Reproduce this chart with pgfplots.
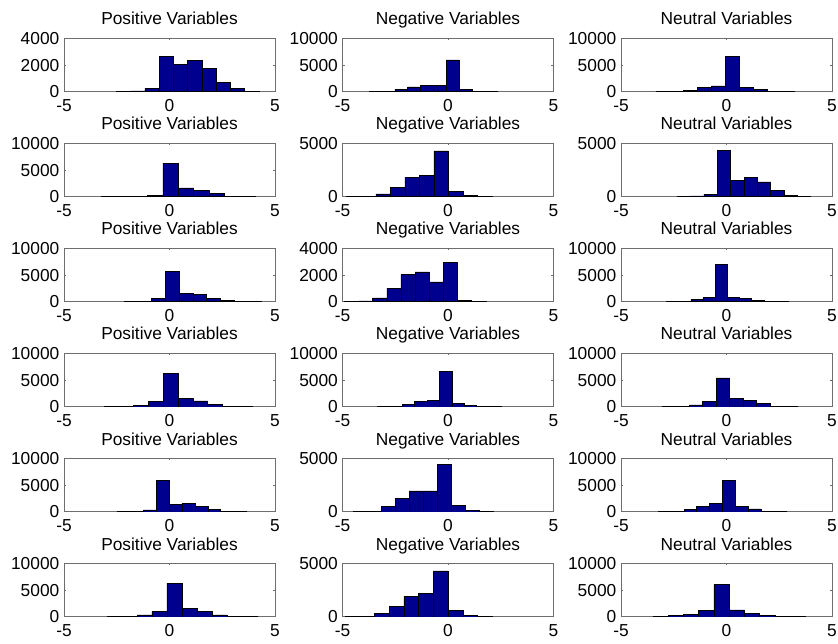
\documentclass[border=0pt]{standalone}
\usepackage{pgfplots}
\pgfplotsset{compat=1.18}
\usepackage{fontspec}
\setmainfont{Liberation Sans}
\definecolor{mblue}{RGB}{0,0,143}
\definecolor{agray}{RGB}{110,110,110}
\pgfplotsset{
  hsty/.style={
    scale only axis, width=158.25pt, height=40.1pt,
    xmin=-5, xmax=5, ymin=0,
    xtick={-5,0,5}, xticklabels={-5,0,5},
    scaled y ticks=false,
    tick align=inside, major tick length=1.6pt,
    tick style={agray, line width=0.5pt},
    axis line style={agray, line width=0.6pt},
    ticklabel style={font=\fontsize{13}{13}\selectfont},
    xticklabel style={inner sep=1pt, yshift=-4.6pt},
    title style={font=\fontsize{13}{13}\selectfont, anchor=base, inner sep=1pt, yshift=4pt},
  }
}
\newcommand{\hsub}[6]{%
  \begin{axis}[hsty, at={(#1,#2)}, anchor=south west, title={#3}, ymax=#4, ytick={#5}, yticklabels={#5}]
  \addplot[ybar interval, fill=mblue, draw=black, line width=0.45pt] coordinates {#6};
  \end{axis}}
\begin{document}
\begin{tikzpicture}
\useasboundingbox (0,0) rectangle (628.5pt,482.25pt);
% Row 1
\hsub{48pt}{413.4pt}{Positive Variables}{4000}{0,2000,4000}{(-2.52,30) (-1.84,60) (-1.17,280) (-0.49,2630) (0.18,2060) (0.86,2350) (1.54,1750) (2.21,720) (2.89,250) (3.56,50) (4.24,0)}
\hsub{256.9pt}{413.4pt}{Negative Variables}{10000}{0,5000,10000}{(-3.73,30) (-3.12,80) (-2.52,490) (-1.91,920) (-1.30,1230) (-0.70,1230) (-0.09,5950) (0.52,430) (1.13,100) (1.73,50) (2.34,0)}
\hsub{465.75pt}{413.4pt}{Neutral Variables}{10000}{0,5000,10000}{(-3.35,50) (-2.69,120) (-2.03,300) (-1.38,800) (-0.72,1100) (-0.06,6560) (0.60,800) (1.26,430) (1.91,80) (2.57,50) (3.23,0)}
% Row 2
\hsub{48pt}{334.65pt}{Positive Variables}{10000}{0,5000,10000}{(-3.23,30) (-2.50,60) (-1.77,120) (-1.04,330) (-0.31,6300) (0.42,1660) (1.15,1170) (1.88,620) (2.60,120) (3.33,40) (4.06,0)}
\hsub{256.9pt}{334.65pt}{Negative Variables}{5000}{0,5000}{(-4.80,40) (-4.11,70) (-3.42,280) (-2.73,900) (-2.04,1850) (-1.36,2000) (-0.67,4290) (0.02,520) (0.71,140) (1.40,40) (2.09,0)}
\hsub{465.75pt}{334.65pt}{Neutral Variables}{5000}{0,5000}{(-2.34,50) (-1.71,80) (-1.07,250) (-0.44,4370) (0.19,1540) (0.83,1850) (1.46,1390) (2.09,590) (2.72,150) (3.36,40) (3.99,0)}
% Row 3
\hsub{48pt}{255.9pt}{Positive Variables}{10000}{0,5000,10000}{(-2.16,60) (-1.51,90) (-0.85,600) (-0.20,5640) (0.45,1630) (1.11,1320) (1.76,700) (2.41,250) (3.06,120) (3.72,60) (4.37,0)}
\hsub{256.9pt}{255.9pt}{Negative Variables}{4000}{0,2000,4000}{(-4.90,40) (-4.23,60) (-3.57,285) (-2.90,1030) (-2.23,2050) (-1.56,2230) (-0.88,1490) (-0.21,2960) (0.46,90) (1.12,40) (1.79,0)}
\hsub{465.75pt}{255.9pt}{Neutral Variables}{10000}{0,5000,10000}{(-2.85,60) (-2.27,120) (-1.69,450) (-1.12,850) (-0.54,7050) (0.04,850) (0.61,600) (1.19,320) (1.77,100) (2.34,70) (2.92,0)}
% Row 4
\hsub{48pt}{177.15pt}{Positive Variables}{10000}{0,5000,10000}{(-3.10,50) (-2.40,80) (-1.70,300) (-1.00,1050) (-0.30,6300) (0.41,1500) (1.11,1100) (1.81,500) (2.51,120) (3.21,100) (3.91,0)}
\hsub{256.9pt}{177.15pt}{Negative Variables}{10000}{0,5000,10000}{(-3.35,50) (-2.76,100) (-2.17,450) (-1.58,950) (-0.99,1200) (-0.40,6600) (0.18,700) (0.77,250) (1.36,80) (1.95,60) (2.54,0)}
\hsub{465.75pt}{177.15pt}{Neutral Variables}{10000}{0,5000,10000}{(-3.05,50) (-2.41,100) (-1.77,350) (-1.13,950) (-0.49,5400) (0.15,1600) (0.79,1150) (1.43,600) (2.07,100) (2.71,70) (3.35,0)}
% Row 5
\hsub{48pt}{98.4pt}{Positive Variables}{10000}{0,5000,10000}{(-2.47,60) (-1.86,100) (-1.25,350) (-0.63,5800) (-0.02,1350) (0.59,1600) (1.20,1000) (1.82,500) (2.43,100) (3.04,80) (3.66,0)}
\hsub{256.9pt}{98.4pt}{Negative Variables}{5000}{0,5000}{(-4.49,40) (-3.83,70) (-3.16,500) (-2.50,1250) (-1.84,1950) (-1.18,1950) (-0.51,4450) (0.15,590) (0.81,100) (1.48,50) (2.14,0)}
\hsub{465.75pt}{98.4pt}{Neutral Variables}{10000}{0,5000,10000}{(-3.23,60) (-2.62,130) (-2.01,500) (-1.41,1050) (-0.80,1500) (-0.19,5800) (0.42,1000) (1.03,550) (1.63,100) (2.24,70) (2.85,0)}
% Row 6
\hsub{48pt}{19.65pt}{Positive Variables}{10000}{0,5000,10000}{(-2.97,50) (-2.26,100) (-1.54,350) (-0.83,1000) (-0.12,6300) (0.60,1550) (1.31,1050) (2.02,350) (2.73,100) (3.45,50) (4.16,0)}
\hsub{256.9pt}{19.65pt}{Negative Variables}{5000}{0,5000}{(-4.87,40) (-4.17,70) (-3.48,300) (-2.78,1000) (-2.09,1900) (-1.39,2200) (-0.69,4300) (0.00,580) (0.70,150) (1.39,50) (2.09,0)}
\hsub{465.75pt}{19.65pt}{Neutral Variables}{10000}{0,5000,10000}{(-3.48,60) (-2.76,200) (-2.04,520) (-1.32,1170) (-0.60,6000) (0.12,1290) (0.85,590) (1.57,280) (2.29,100) (3.01,50) (3.73,0)}
\end{tikzpicture}
\end{document}
